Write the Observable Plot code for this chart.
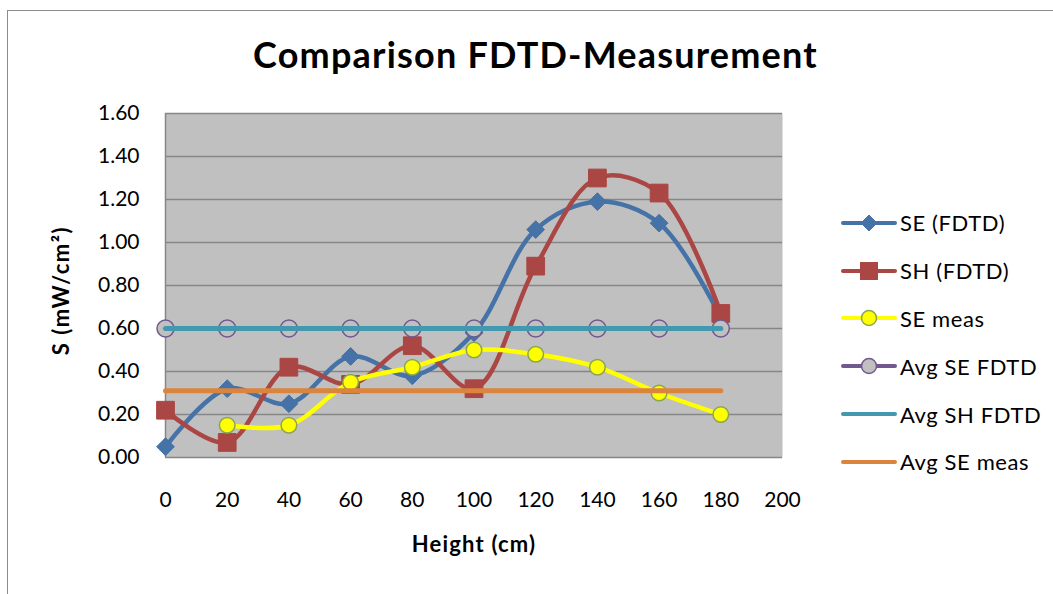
<!DOCTYPE html>
<html>
<head>
<meta charset="utf-8">
<script src="https://cdn.jsdelivr.net/npm/d3@7"></script>
<script src="https://cdn.jsdelivr.net/npm/@observablehq/plot@0.6"></script>
<style>
  html, body { margin: 0; padding: 0; background: #fff; }
  #wrap { position: relative; width: 1053px; height: 594px; overflow: hidden; font-family: Lato, "Open Sans", sans-serif; }
  #border { position: absolute; left: 7px; top: 10px; width: 1080px; height: 620px; border: 1.5px solid #8c8c8c; box-sizing: border-box; }
  #title { position: absolute; top: 32px; left: 0; width: 1071px; text-align: center; font-weight: bold; font-size: 36px; letter-spacing: 1.2px; color: #000; }
  #chart { position: absolute; left: 0; top: 100px; }
  #legend { position: absolute; left: 839px; top: 199px; }
  .row { display: flex; align-items: center; height: 47.8px; font-size: 22px; letter-spacing: 0.6px; color: #000; }
  .row svg { margin-right: 3px; }
</style>
</head>
<body>
<div id="wrap">
  <div id="border"></div>
  <div id="title">Comparison FDTD-Measurement</div>
  <div id="chart"></div>
  <div id="legend"></div>
</div>
<script>
// ---- data ----
const heights = [0, 20, 40, 60, 80, 100, 120, 140, 160, 180];
const seFDTD  = [0.05, 0.32, 0.25, 0.47, 0.38, 0.58, 1.06, 1.19, 1.09, 0.65];
const shFDTD  = [0.22, 0.07, 0.42, 0.34, 0.52, 0.32, 0.89, 1.30, 1.23, 0.67];
const measHeights = [20, 40, 60, 80, 100, 120, 140, 160, 180];
const seMeas  = [0.15, 0.15, 0.35, 0.42, 0.50, 0.48, 0.42, 0.30, 0.20];
const avgSEFDTD = 0.60;
const avgSHFDTD = 0.60;
const avgSEMeas = 0.31;
const xTicks = [0, 20, 40, 60, 80, 100, 120, 140, 160, 180, 200];
const yTicks = [0, 0.2, 0.4, 0.6, 0.8, 1.0, 1.2, 1.4, 1.6];
const seriesNames = ["SE (FDTD)", "SH (FDTD)", "SE meas", "Avg SE FDTD", "Avg SH FDTD", "Avg SE meas"];
const colors = {
  blue: "#4572A7", red: "#AA4643", yellow: "#FFFF00", olive: "#89A54E",
  purple: "#71588F", teal: "#4198AF", orange: "#DB843D", bg: "#C0C0C0", grid: "#868686"
};

const seData = heights.map((h, i) => ({x: h, y: seFDTD[i]}));
const shData = heights.map((h, i) => ({x: h, y: shFDTD[i]}));
const measData = measHeights.map((h, i) => ({x: h, y: seMeas[i]}));
const avgSE = heights.map(h => ({x: h, y: avgSEFDTD}));
const avgSH = [heights[0], heights[heights.length - 1]].map(h => ({x: h, y: avgSHFDTD}));
const avgMeas = [heights[0], heights[heights.length - 1]].map(h => ({x: h, y: avgSEMeas}));

const chart = Plot.plot({
  width: 1053,
  height: 494,
  marginLeft: 165,
  marginRight: 271,
  marginTop: 13,
  marginBottom: 137,
  x: {domain: [0, 200]},
  y: {domain: [0, 1.6]},
  style: {fontFamily: "Lato, 'Open Sans', sans-serif", fontSize: "21px", color: "#000", background: "transparent", overflow: "visible"},
  marks: [
    Plot.frame({fill: colors.bg, stroke: null}),
    Plot.gridY(yTicks, {stroke: colors.grid, strokeOpacity: 1, strokeWidth: 1.5}),
    Plot.ruleX([0], {stroke: colors.grid, strokeWidth: 1.5}),
    Plot.axisY(yTicks, {tickSize: 0, tickPadding: 26, tickFormat: d => d.toFixed(2), label: null, fontSize: 21}),
    Plot.axisX(xTicks, {tickSize: 0, tickPadding: 35, label: null, fontSize: 21}),
    // SE (FDTD)
    Plot.line(seData, {x: "x", y: "y", curve: "catmull-rom", stroke: colors.blue, strokeWidth: 4.5}),
    Plot.dot(seData, {x: "x", y: "y", symbol: "diamond2", r: 8, fill: colors.blue, stroke: colors.blue, strokeWidth: 1}),
    // SH (FDTD)
    Plot.line(shData, {x: "x", y: "y", curve: "catmull-rom", stroke: colors.red, strokeWidth: 4.5}),
    Plot.dot(shData, {x: "x", y: "y", symbol: "square", r: 10, fill: colors.red, stroke: colors.red, strokeWidth: 1}),
    // SE meas
    Plot.line(measData, {x: "x", y: "y", curve: "catmull-rom", stroke: colors.yellow, strokeWidth: 4.5}),
    Plot.dot(measData, {x: "x", y: "y", symbol: "circle", r: 7.8, fill: colors.yellow, stroke: colors.olive, strokeWidth: 1.5}),
    // Avg SE FDTD
    Plot.line(avgSE, {x: "x", y: "y", stroke: colors.purple, strokeWidth: 4.5}),
    Plot.dot(avgSE, {x: "x", y: "y", symbol: "circle", r: 8.5, fill: colors.bg, stroke: colors.purple, strokeWidth: 1.5}),
    // Avg SH FDTD
    Plot.line(avgSH, {x: "x", y: "y", stroke: colors.teal, strokeWidth: 5, strokeLinecap: "round"}),
    // Avg SE meas
    Plot.line(avgMeas, {x: "x", y: "y", stroke: colors.orange, strokeWidth: 5, strokeLinecap: "round"}),
    // axis titles
    Plot.text(["S (mW/cm²)"], {frameAnchor: "left", textAnchor: "middle", dx: -104, dy: 5, rotate: -90, fontWeight: "bold", fontSize: 22}),
    Plot.text(["Height (cm)"], {frameAnchor: "bottom", textAnchor: "middle", dy: 94, fontWeight: "bold", fontSize: 22})
  ]
});
// slight letter spacing on the axis titles to match the reference's wide rendering
chart.querySelectorAll("text").forEach(t => {
  if (t.textContent === "S (mW/cm²)") t.style.letterSpacing = "1.5px";
  if (t.textContent === "Height (cm)") t.style.letterSpacing = "1.2px";
});
document.getElementById("chart").appendChild(chart);

// ---- legend ----
const legendSpecs = [
  {line: colors.blue, marker: "diamond", fill: colors.blue, stroke: colors.blue},
  {line: colors.red, marker: "square", fill: colors.red, stroke: colors.red},
  {line: colors.yellow, marker: "circle", fill: colors.yellow, stroke: colors.olive},
  {line: colors.purple, marker: "circle", fill: colors.bg, stroke: colors.purple},
  {line: colors.teal, marker: null},
  {line: colors.orange, marker: null}
];
const legend = document.getElementById("legend");
seriesNames.forEach((name, i) => {
  const s = legendSpecs[i];
  let m = "";
  if (s.marker === "diamond") m = `<path d="M30,3 L38,11 L30,19 L22,11Z" fill="${s.fill}" stroke="${s.stroke}"/>`;
  if (s.marker === "square") m = `<rect x="21.5" y="2.5" width="17" height="17" fill="${s.fill}" stroke="${s.stroke}"/>`;
  if (s.marker === "circle") m = `<circle cx="30" cy="11" r="7.5" fill="${s.fill}" stroke="${s.stroke}" stroke-width="1.5"/>`;
  const row = document.createElement("div");
  row.className = "row";
  row.innerHTML = `<svg width="58" height="22"><line x1="4" y1="11" x2="56" y2="11" stroke="${s.line}" stroke-width="4" stroke-linecap="round"/>${m}</svg><span>${name}</span>`;
  legend.appendChild(row);
});
</script>
</body>
</html>
